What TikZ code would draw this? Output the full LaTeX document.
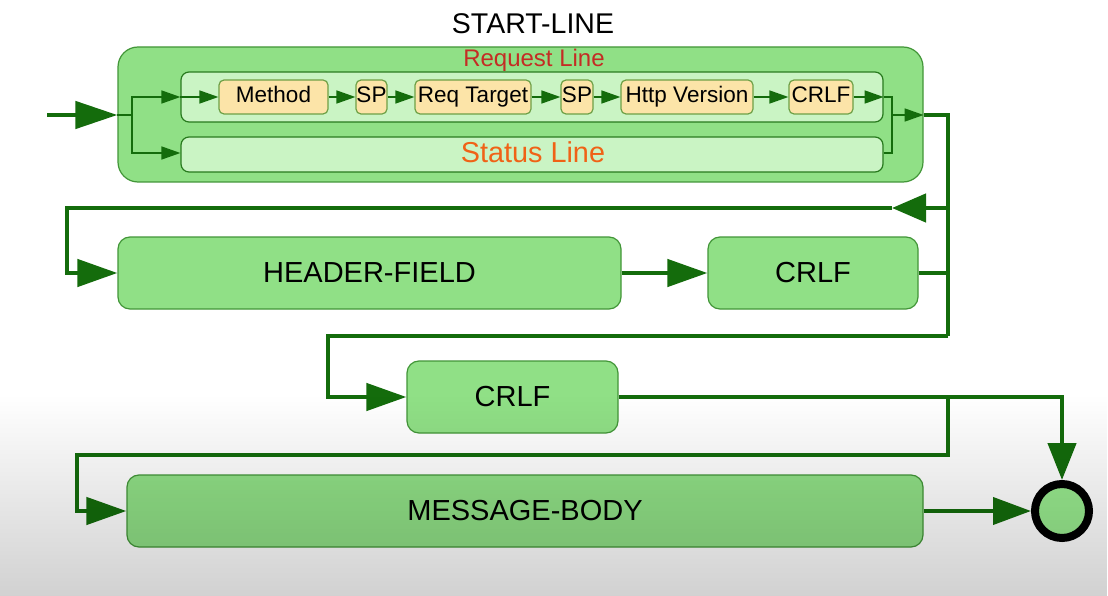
\documentclass[tikz,border=0pt]{standalone}
\usepackage{fontspec}
\setmainfont{Liberation Sans}
\usetikzlibrary{arrows.meta,fadings}

\definecolor{flowline}{RGB}{20,108,12}
\definecolor{boxfill}{RGB}{144,224,134}
\definecolor{boxedge}{RGB}{66,150,56}
\definecolor{lanefill}{RGB}{202,244,196}
\definecolor{laneedge}{RGB}{40,122,30}
\definecolor{tokfill}{RGB}{252,228,168}
\definecolor{tokedge}{RGB}{110,160,70}
\definecolor{reqred}{RGB}{196,44,36}
\definecolor{statorange}{RGB}{240,98,22}
\definecolor{endfill}{RGB}{152,234,142}

\tikzfading[name=shadedown, top color=transparent!100, bottom color=transparent!0]

\tikzset{
  bigbox/.style={draw=boxedge, fill=boxfill, line width=1.2, rounded corners=12,
    inner sep=0, font=\fontsize{29}{32}\selectfont},
  lanebox/.style={draw=laneedge, fill=lanefill, line width=1.2, rounded corners=8, inner sep=0},
  tokbox/.style={draw=tokedge, fill=tokfill, line width=1.2, rounded corners=5,
    inner sep=0.5, minimum height=34, text height=15.5, text depth=5,
    font=\fontsize{22.5}{24}\selectfont},
  thinline/.style={draw=flowline, line width=1.6},
  thinarrow/.style={thinline, -{Triangle[length=19,width=13]}},
  thickline/.style={draw=flowline, line width=4.5},
  thickarrow/.style={thickline, -{Triangle[length=40,width=27]}},
}

\begin{document}
\begin{tikzpicture}[x=1pt,y=-1pt]
  \useasboundingbox (0,0) rectangle (1108,596);
  \fill[white] (0,0) rectangle (1108,596);

  % start-line block
  \node[font=\fontsize{28.5}{31}\selectfont] (title) at (533,24) {START-LINE};
  \node[draw=boxedge, fill=boxfill, line width=1.2, rounded corners=20,
        minimum width=805, minimum height=135, inner sep=0] (start) at (520.5,114.5) {};
  \node[text=reqred, font=\fontsize{24}{26}\selectfont] (reqlabel) at (534,60) {Request Line};
  \node[lanebox, minimum width=702, minimum height=50] (req) at (532,97) {};
  \node[lanebox, minimum width=702, minimum height=35] (status) at (532,154.5) {};
  \node[text=statorange, font=\fontsize{28.8}{31}\selectfont] (statlabel) at (533,152) {Status Line};

  % request-line tokens
  \node[tokbox, minimum width=109] (method) at (273.5,97) {Method};
  \node[tokbox, minimum width=31]  (spa)    at (371.5,97) {SP};
  \node[tokbox, minimum width=116] (target) at (473,97)   {Req Target};
  \node[tokbox, minimum width=32]  (spb)    at (577,97)   {SP};
  \node[tokbox, minimum width=132] (version) at (687,97)  {Http Version};
  \node[tokbox, minimum width=64]  (crlfa)  at (821,97)   {CRLF};

  % lower blocks
  \node[bigbox, minimum width=503, minimum height=72] (header) at (369.5,273) {HEADER-FIELD};
  \node[bigbox, minimum width=210, minimum height=72] (crlfh)  at (813,273)   {CRLF};
  \node[bigbox, minimum width=211, minimum height=72] (crlfb)  at (512.5,397) {CRLF};
  \node[bigbox, minimum width=796, minimum height=72] (body)   at (525,511)   {MESSAGE-BODY};
  \node[circle, draw=black, fill=endfill, line width=8, minimum size=54, inner sep=0] (finish) at (1062,511) {};

  % junctions
  \coordinate (entry) at (47,115);
  \coordinate (splitl) at (132,115);
  \coordinate (joinr) at (892,115);
  \coordinate (rloop) at (948,208);
  \coordinate (rtip) at (892,208);
  \coordinate (lloop) at (67,208);
  \coordinate (rhead) at (948,273);
  \coordinate (rdown) at (948,336);
  \coordinate (lcrlf) at (328,336);
  \coordinate (rbody) at (948,397);
  \coordinate (lbody) at (77,455);

  % inside the start-line
  \draw[thickarrow, -{Triangle[length=42,width=27]}] (entry) -- (start.west |- entry);
  \draw[thinline] (start.west |- entry) -- (splitl);
  \draw[thinarrow] (splitl) |- (req.west);
  \draw[thinarrow] (splitl) |- (status.west |- 0,153);
  \draw[thinarrow] (req.west) -- (method.west);
  \draw[thinarrow] (method) -- (spa);
  \draw[thinarrow] (spa) -- (target);
  \draw[thinarrow] (target) -- (spb);
  \draw[thinarrow] (spb) -- (version);
  \draw[thinarrow] (version) -- (crlfa);
  \draw[thinarrow] (crlfa) -- (req.east);
  \draw[thinline] (req.east) -| (joinr);
  \draw[thinline] (status.east |- 0,153) -| (joinr);
  \draw[thinarrow] (joinr) -- (start.east |- joinr);

  % header loop
  \draw[thickline] (start.east |- joinr) -| (rdown);
  \draw[thickarrow, -{Triangle[length=34,width=28]}] (rloop) -- (rtip);
  \draw[thickarrow] (rtip) -- (lloop) |- (header.west);
  \draw[thickarrow] (header) -- (crlfh);
  \draw[thickline] (crlfh.east) -- (rhead);

  % empty line and body
  \draw[thickarrow] (rdown) -- (lcrlf) |- (crlfb.west);
  \draw[thickarrow, -{Triangle[length=37,width=28]}] (crlfb.east) -| (finish.north);
  \draw[thickarrow] (rbody) |- (lbody) |- (body.west);
  \draw[thickline, line width=4, -{Triangle[length=38,width=27]}] (body.east) -- (finish.west);

  % soft grey band along the bottom
  \fill[black, opacity=0.18, path fading=shadedown] (0,395) rectangle (1108,596);
\end{tikzpicture}
\end{document}
